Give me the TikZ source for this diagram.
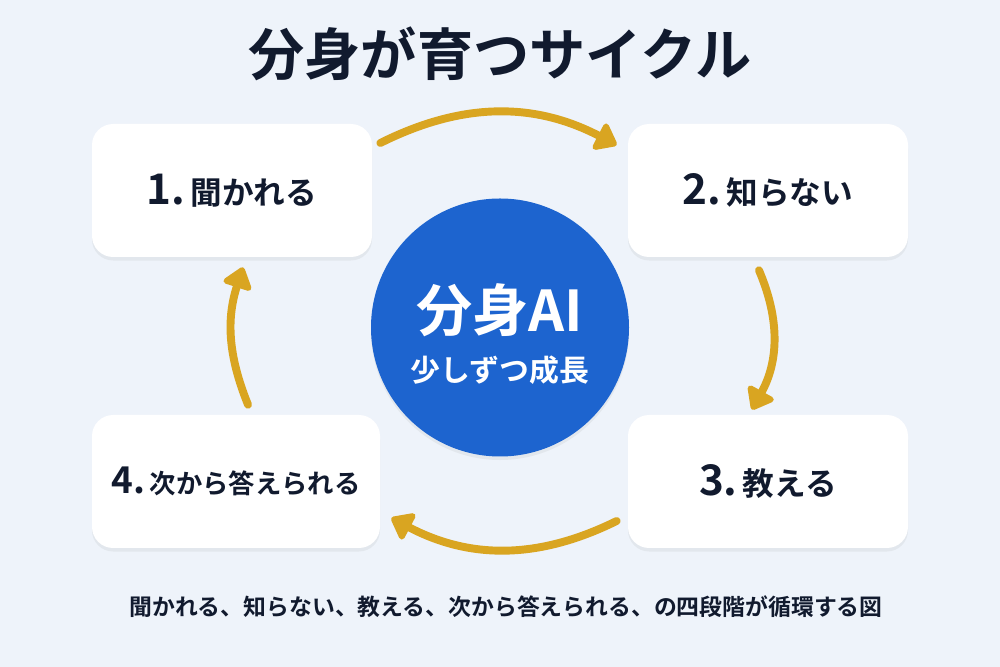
\documentclass[tikz,border=0pt]{standalone}
\usepackage{fontspec}
\setmainfont{Noto Sans CJK JP}[BoldFont={Noto Sans CJK JP Bold}]
\usetikzlibrary{arrows.meta,shadows}

\definecolor{fondo}{HTML}{EEF3FA}
\definecolor{oro}{HTML}{D9A521}
\definecolor{azul}{HTML}{1D64CF}
\definecolor{tinta}{HTML}{111A2E}

\newcommand{\paso}[3][24]{{\fontsize{#1}{26}\selectfont #2}\,#3}

\begin{document}
\begin{tikzpicture}[
	caja/.style={fill=white, rounded corners=12pt, minimum width=5.6cm, minimum height=2.66cm,
		drop shadow={opacity=0.10, shadow xshift=0pt, shadow yshift=-2pt},
		text=tinta, font=\bfseries\fontsize{18}{22}\selectfont},
	flecha/.style={draw=oro, line width=4.5pt, line cap=round,
		-{Triangle[length=13pt, width=19pt, round]}}
	]
	
	% Fondo
	\fill[fondo] (0,0) rectangle (20,13.34);
	\useasboundingbox (0,0) rectangle (20,13.34);
	
	% Titulo
	\node[text=tinta, font=\bfseries\fontsize{32}{34}\selectfont] (titulo) at (10,12.26) {分身が育つサイクル};
	
	% Cajas de los pasos
	\node[caja] (P1) at (4.64,9.53) {\paso{1.}{聞かれる}};
	\node[caja] (P2) at (15.36,9.53) {\paso{2.}{知らない}};
	\node[caja] (P3) at (15.36,3.71) {\paso{3.}{教える}};
	\node[caja, minimum width=5.76cm, font=\bfseries\fontsize{15}{18}\selectfont] (P4) at (4.72,3.71) {\paso[21]{4.}{次から答えられる}};
	
	% Circulo central
	\node[circle, fill=azul, minimum size=5.16cm,
		drop shadow={opacity=0.10, shadow xshift=0pt, shadow yshift=-2pt}] (centro) at (10,6.79) {};
	\node[text=white, font=\bfseries\fontsize{32}{34}\selectfont] (nombre) at (10,7.14) {分身AI};
	\node[text=white, font=\bfseries\fontsize{17}{20}\selectfont] (lema) at (10,5.94) {少しずつ成長};
	
	% Flechas del ciclo
	\draw[flecha] ([shift={(0.16,0.95)}]P1.east) to[bend left=27] ([shift={(-0.22,0.91)}]P2.west);
	\draw[flecha] ([shift={(-0.18,-0.26)}]P2.south) to[bend left=26] ([shift={(-0.32,0.10)}]P3.north);
	\draw[flecha] ([shift={(-0.22,-0.79)}]P3.west) to[bend left=27] ([shift={(0.22,-0.73)}]P4.east);
	\draw[flecha] ([shift={(0.24,0.20)}]P4.north) to[bend left=20] ([shift={(0.22,-0.20)}]P1.south);
	
	% Pie
	\node[text=tinta, font=\bfseries\fontsize{13}{16}\selectfont] (pie) at (10.12,1.2) {聞かれる、知らない、教える、次から答えられる、の四段階が循環する図};
	
\end{tikzpicture}
\end{document}
